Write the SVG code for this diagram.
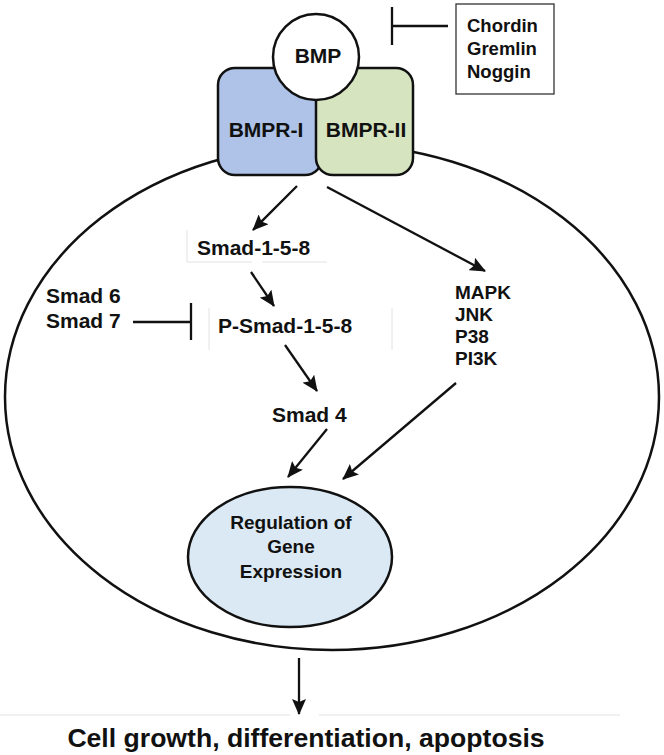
<svg xmlns="http://www.w3.org/2000/svg" width="664" height="755" viewBox="0 0 664 755">
<style>
text{font-family:"Liberation Sans",Arial,sans-serif;font-weight:bold;fill:#111}
.ln{stroke:#111;stroke-width:2.3;fill:none}
.faint{stroke:#e2e2e2;stroke-width:1;fill:none}
.shape{stroke:#111;stroke-width:2.5}
</style>
<defs>
<marker id="ah" markerUnits="userSpaceOnUse" markerWidth="16" markerHeight="14" refX="15" refY="7" orient="auto">
<path d="M0,0 L16,7 L0,14 L3,7 z" fill="#111"/>
</marker>
</defs>
<rect width="664" height="755" fill="#fff"/>
<g id="cell"><ellipse cx="332" cy="397" rx="327" ry="253" fill="none" stroke="#111" stroke-width="2.5"/></g>
<g id="bmpr1"><rect x="218" y="68" width="104" height="107" rx="17" fill="#aec3e7" class="shape"/><text x="266" y="137" font-size="21" text-anchor="middle">BMPR-I</text></g>
<g id="bmpr2"><rect x="316" y="68" width="97" height="107" rx="17" fill="#d6e5c0" class="shape"/><text x="366" y="137" font-size="21" text-anchor="middle">BMPR-II</text></g>
<g id="bmp"><circle cx="316" cy="57" r="43" fill="#fff" class="shape"/><text x="318" y="63" font-size="21" text-anchor="middle">BMP</text></g>
<g id="antagonists"><rect x="456" y="4" width="98" height="90" fill="#fff" stroke="#333" stroke-width="1.3"/><text x="467" y="32" font-size="18.5">Chordin</text><text x="467" y="55" font-size="18.5">Gremlin</text><text x="467" y="78" font-size="18.5">Noggin</text></g>
<g id="smad158"><path class="faint" d="M187,230 V262 H252 M262,262 H327"/><text x="197" y="255" font-size="21">Smad-1-5-8</text></g>
<g id="psmad"><path class="faint" d="M209,308 V350 M392,308 V350"/><text x="218" y="333" font-size="21">P-Smad-1-5-8</text></g>
<g id="smad67"><text x="46" y="303" font-size="21">Smad 6</text><text x="46" y="328" font-size="21">Smad 7</text></g>
<g id="smad4"><text x="272" y="422" font-size="21">Smad 4</text></g>
<g id="mapk"><text x="455" y="299" font-size="19">MAPK</text><text x="455" y="321" font-size="19">JNK</text><text x="455" y="343" font-size="19">P38</text><text x="455" y="365" font-size="19">PI3K</text></g>
<g id="gene"><ellipse cx="290" cy="557" rx="102" ry="70" fill="#dbe9f4" stroke="#111" stroke-width="2.5"/><text x="291" y="529" font-size="19" text-anchor="middle">Regulation of</text><text x="291" y="553" font-size="19" text-anchor="middle">Gene</text><text x="291" y="578" font-size="19" text-anchor="middle">Expression</text></g>
<g id="outcome"><path class="faint" d="M0,715 H290 M319,715 H620"/><text x="306" y="747" font-size="26.6" text-anchor="middle">Cell growth, differentiation, apoptosis</text></g>
<g id="connectors">
<path class="ln" d="M448,26 H392 M392,7 V45"/>
<path class="ln" d="M133,322 H191 M191,303 V340"/>
<line class="ln" x1="297" y1="186" x2="253" y2="230" marker-end="url(#ah)"/>
<line class="ln" x1="327" y1="187" x2="485" y2="271" marker-end="url(#ah)"/>
<line class="ln" x1="251" y1="272" x2="274" y2="306" marker-end="url(#ah)"/>
<line class="ln" x1="285" y1="345" x2="317" y2="391" marker-end="url(#ah)"/>
<line class="ln" x1="327" y1="429" x2="288" y2="477" marker-end="url(#ah)"/>
<line class="ln" x1="456" y1="383" x2="343" y2="479" marker-end="url(#ah)"/>
<line class="ln" x1="299" y1="658" x2="299" y2="714" marker-end="url(#ah)"/>
</g>
</svg>
